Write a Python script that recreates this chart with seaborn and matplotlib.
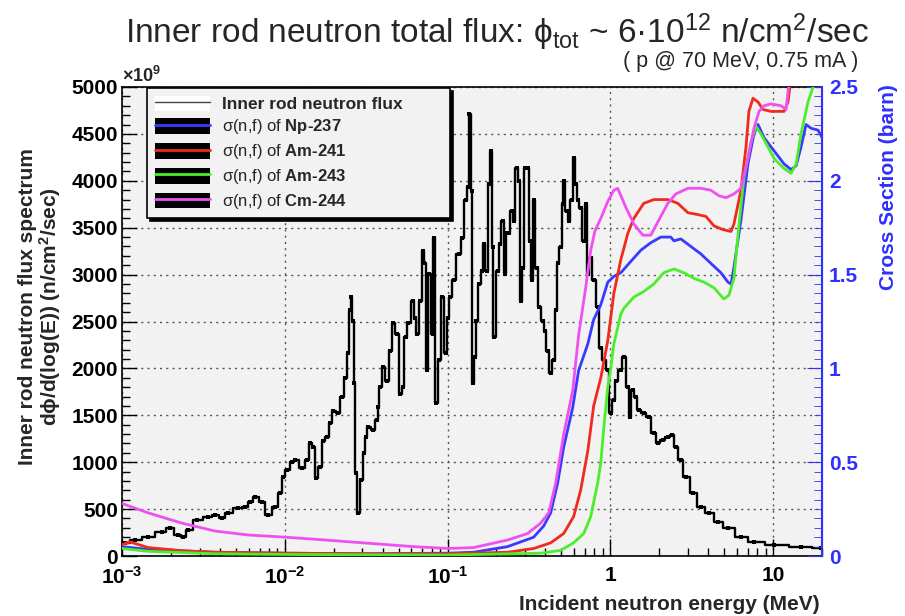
import numpy as np
import matplotlib.pyplot as plt
import seaborn as sns
from matplotlib.patches import Rectangle
from matplotlib.lines import Line2D
from matplotlib.legend_handler import HandlerTuple
from matplotlib.ticker import MultipleLocator, LogLocator, FixedLocator, FixedFormatter, NullFormatter
from matplotlib import font_manager

sns.set_style("ticks")
plt.rcParams['font.family'] = ['Liberation Sans', 'DejaVu Sans']
plt.rcParams['font.weight'] = 'bold'
plt.rcParams['mathtext.fontset'] = 'custom'
plt.rcParams['mathtext.rm'] = 'Liberation Sans'
plt.rcParams['mathtext.bf'] = 'Liberation Sans:bold'
plt.rcParams['mathtext.it'] = 'Liberation Sans:italic'
plt.rcParams['mathtext.default'] = 'regular'

names = {f.name for f in font_manager.fontManager.ttflist}
narrow = 'Liberation Sans Narrow' if 'Liberation Sans Narrow' in names else 'Liberation Sans'

# neutron flux spectrum (log10 E in MeV, flux in 1e9 n/cm2/sec)
flux_logE = [-2.982, -2.920, -2.840, -2.754, -2.705, -2.655, -2.625, -2.594, -2.538, -2.471,
             -2.428, -2.385, -2.348, -2.286, -2.243, -2.212, -2.182, -2.138, -2.102, -2.058,
             -2.028, -2.009, -1.985, -1.954, -1.935, -1.892, -1.862, -1.843, -1.825, -1.806,
             -1.782, -1.763, -1.738, -1.720, -1.702, -1.671, -1.646, -1.628, -1.609, -1.597,
             -1.591, -1.578, -1.572, -1.560, -1.548, -1.529, -1.511, -1.498, -1.486, -1.455,
             -1.431, -1.425, -1.412, -1.394, -1.369, -1.351, -1.332, -1.308, -1.289, -1.271,
             -1.258, -1.240, -1.215, -1.197, -1.185, -1.166, -1.148, -1.142, -1.123, -1.111,
             -1.092, -1.086, -1.068, -1.055, -1.031, -1.012, -0.994, -0.982, -0.963, -0.932,
             -0.908, -0.889, -0.877, -0.865, -0.852, -0.846, -0.834, -0.822, -0.809, -0.785,
             -0.778, -0.760, -0.748, -0.735, -0.723, -0.717, -0.692, -0.680, -0.662, -0.649,
             -0.637, -0.625, -0.606, -0.594, -0.575, -0.563, -0.551, -0.538, -0.526, -0.508,
             -0.495, -0.483, -0.471, -0.452, -0.440, -0.415, -0.403, -0.385, -0.366, -0.348,
             -0.335, -0.323, -0.305, -0.292, -0.286, -0.268, -0.255, -0.237, -0.225, -0.212,
             -0.200, -0.182, -0.163, -0.151, -0.138, -0.120, -0.102, -0.077, -0.058, -0.040,
             -0.015, 0.003, 0.022, 0.034, 0.065, 0.083, 0.108, 0.120, 0.138, 0.157,
             0.175, 0.206, 0.237, 0.268, 0.292, 0.323, 0.354, 0.378, 0.403, 0.434,
             0.465, 0.508, 0.557, 0.606, 0.662, 0.723, 0.803, 0.883, 1.006, 1.172, 1.295]
flux_vals = [140, 170, 200, 255, 300, 220, 200, 275, 380, 415,
             435, 400, 455, 510, 520, 575, 630, 575, 435, 520,
             670, 840, 915, 1000, 1020, 935, 1020, 1200, 1160, 830,
             950, 1230, 1270, 1415, 1550, 1520, 1690, 1900, 2160, 2620,
             2760, 2510, 1840, 880, 455, 810, 1095, 1270, 1370, 1340,
             1450, 1585, 1800, 2010, 1870, 2190, 2480, 2370, 1730, 1800,
             2330, 2480, 2720, 2540, 2370, 2720, 3255, 3120, 1980, 3010,
             2370, 3390, 1630, 2085, 2760, 2160, 2540, 2760, 2940, 3220,
             3390, 3790, 3930, 4710, 3890, 1840, 2120, 2510, 2900, 3040,
             3330, 3040, 3970, 4320, 3290, 2330, 3040, 3330, 3570, 3010,
             3440, 3440, 3680, 3570, 4140, 4000, 2720, 3075, 4140, 4140,
             3360, 2940, 3790, 3075, 2650, 2510, 2400, 2190, 1950, 2085,
             2620, 3120, 3290, 3755, 4000, 3680, 3570, 3790, 4245, 3970,
             3790, 3715, 3360, 3755, 3010, 3180, 2940, 2650, 2220, 2085,
             1980, 1520, 1660, 1870, 1980, 2120, 1800, 1480, 1765, 1690,
             1555, 1520, 1480, 1310, 1200, 1235, 1270, 1290, 1160, 1020,
             840, 670, 520, 455, 360, 300, 200, 150, 115, 100, 85]

# fission cross sections (log10 E in MeV, barn)
np237_logE = [-3.0, -2.84, -2.428, -1.991, -1.517, -0.994, -0.84, -0.631, -0.471, -0.409,
              -0.366, -0.323, -0.286, -0.231, -0.194, -0.138, -0.102, -0.058, -0.015, 0.022,
              0.065, 0.126, 0.188, 0.249, 0.311, 0.372, 0.391, 0.434, 0.495, 0.557,
              0.618, 0.68, 0.723, 0.742, 0.76, 0.803, 0.846, 0.883, 0.908, 0.945,
              1.006, 1.068, 1.111, 1.142, 1.172, 1.203, 1.234, 1.277, 1.308]
np237_xs = [0.05, 0.035, 0.02, 0.015, 0.012, 0.015, 0.02, 0.05, 0.10, 0.16,
            0.23, 0.39, 0.58, 0.79, 0.99, 1.13, 1.26, 1.34, 1.46, 1.49,
            1.51, 1.57, 1.63, 1.67, 1.70, 1.70, 1.68, 1.69, 1.65, 1.61,
            1.56, 1.51, 1.46, 1.45, 1.54, 1.79, 2.09, 2.25, 2.30, 2.23,
            2.16, 2.09, 2.06, 2.08, 2.18, 2.30, 2.28, 2.27, 2.22]

am241_logE = [-3.0, -2.951, -2.84, -2.631, -2.428, -1.991, -1.517, -0.994, -0.631, -0.471,
              -0.366, -0.286, -0.225, -0.182, -0.138, -0.102, -0.058, -0.015, 0.022, 0.065,
              0.108, 0.145, 0.206, 0.268, 0.354, 0.415, 0.477, 0.538, 0.588, 0.637,
              0.692, 0.742, 0.76, 0.803, 0.834, 0.852, 0.877, 0.908, 0.938, 0.988,
              1.068, 1.092, 1.111, 1.129]
am241_xs = [0.06, 0.075, 0.045, 0.028, 0.02, 0.015, 0.012, 0.012, 0.02, 0.04,
            0.07, 0.12, 0.21, 0.35, 0.56, 0.80, 0.95, 1.15, 1.40, 1.58,
            1.72, 1.80, 1.88, 1.90, 1.90, 1.88, 1.83, 1.82, 1.81, 1.76,
            1.74, 1.73, 1.77, 1.95, 2.18, 2.37, 2.44, 2.42, 2.38, 2.37,
            2.37, 2.42, 2.55, 2.70]

am243_logE = [-3.0, -2.84, -2.428, -1.991, -0.994, -0.428, -0.305, -0.225, -0.163, -0.12,
              -0.077, -0.058, -0.04, -0.015, 0.003, 0.022, 0.065, 0.083, 0.145, 0.206,
              0.268, 0.329, 0.391, 0.452, 0.514, 0.575, 0.637, 0.698, 0.729, 0.76,
              0.791, 0.822, 0.865, 0.895, 0.926, 0.969, 1.006, 1.062, 1.111, 1.142,
              1.172, 1.215, 1.246, 1.271]
am243_xs = [0.04, 0.025, 0.012, 0.008, 0.005, 0.015, 0.03, 0.07, 0.12, 0.21,
            0.39, 0.50, 0.68, 0.90, 1.00, 1.13, 1.29, 1.32, 1.38, 1.41,
            1.45, 1.51, 1.53, 1.51, 1.48, 1.46, 1.43, 1.37, 1.39, 1.48,
            1.77, 2.02, 2.21, 2.29, 2.25, 2.18, 2.12, 2.07, 2.04, 2.09,
            2.25, 2.42, 2.50, 2.60]

cm244_logE = [-3.0, -2.84, -2.631, -2.428, -2.225, -1.991, -1.825, -1.517, -1.209, -0.994,
              -0.84, -0.631, -0.508, -0.428, -0.378, -0.335, -0.286, -0.231, -0.194, -0.151,
              -0.12, -0.095, -0.058, -0.015, 0.022, 0.046, 0.095, 0.145, 0.2, 0.249,
              0.298, 0.354, 0.403, 0.477, 0.557, 0.618, 0.668, 0.711, 0.76, 0.803,
              0.846, 0.883, 0.914, 0.945, 0.988, 1.049, 1.08, 1.098, 1.123]
cm244_xs = [0.28, 0.23, 0.175, 0.133, 0.112, 0.10, 0.09, 0.07, 0.05, 0.04,
            0.045, 0.085, 0.12, 0.175, 0.23, 0.39, 0.65, 0.88, 1.18, 1.43,
            1.63, 1.73, 1.80, 1.89, 1.95, 1.96, 1.86, 1.77, 1.71, 1.71,
            1.79, 1.88, 1.93, 1.96, 1.96, 1.95, 1.92, 1.91, 1.93, 1.96,
            2.12, 2.28, 2.37, 2.40, 2.41, 2.40, 2.38, 2.52, 2.70]

xs_series = [("Np-237", np237_logE, np237_xs, "#3a3aff"),
             ("Am-241", am241_logE, am241_xs, "#f02a1e"),
             ("Am-243", am243_logE, am243_xs, "#4aee2a"),
             ("Cm-244", cm244_logE, cm244_xs, "#f050f0")]

fig = plt.figure(figsize=(9.05, 6.16), dpi=100)
ax = fig.add_axes([122/905, 1 - 556/616, 700/905, 469/616])
ax.set_facecolor('#f2f2f2')
ax.set_xscale('log')

sns.lineplot(x=10**np.array(flux_logE), y=flux_vals, ax=ax, color='black', lw=1.7,
             drawstyle='steps-mid', estimator=None, sort=False,
             marker='s', markersize=3.5, markeredgewidth=0)

ax2 = ax.twinx()
for name, logE, xs, col in xs_series:
    sns.lineplot(x=10**np.array(logE), y=xs, ax=ax2, color=col, lw=2,
                 estimator=None, sort=False)

ax.set_xlim(1e-3, 20)
ax.set_ylim(0, 5000)
ax2.set_ylim(0, 2.5)
ax.set_xlabel('')
ax.set_ylabel('')
ax2.set_ylabel('')

# grid
ax.grid(True, which='major', color='#555555', ls=(0, (1.5, 3)), lw=1)
ax.set_axisbelow(True)

# ticks
ax.xaxis.set_major_locator(FixedLocator([1e-3, 1e-2, 1e-1, 1, 10]))
ax.xaxis.set_major_formatter(FixedFormatter(['$10^{-3}$', '$10^{-2}$', '$10^{-1}$', '1', '10']))
ax.xaxis.set_minor_locator(LogLocator(base=10, subs=np.arange(2, 10), numticks=20))
ax.xaxis.set_minor_formatter(NullFormatter())
ax.yaxis.set_major_locator(MultipleLocator(500))
ax.yaxis.set_minor_locator(MultipleLocator(100))
ax.tick_params(axis='both', which='both', direction='in', colors='black', width=1)
ax.tick_params(axis='y', which='major', length=11, labelsize=15, pad=3, right=False)
ax.tick_params(axis='y', which='minor', length=6, right=False)
ax.tick_params(axis='x', which='major', length=12, labelsize=15, pad=7)
ax.tick_params(axis='x', which='minor', length=6)

blue = '#3030ff'
ax2.yaxis.set_major_locator(FixedLocator([0, 0.5, 1, 1.5, 2, 2.5]))
ax2.yaxis.set_major_formatter(FixedFormatter(['0', '0.5', '1', '1.5', '2', '2.5']))
ax2.yaxis.set_minor_locator(MultipleLocator(0.05))
ax2.tick_params(axis='y', which='both', direction='in', colors=blue, labelcolor=blue)
ax2.tick_params(axis='y', which='major', length=11, labelsize=15, pad=5)
ax2.tick_params(axis='y', which='minor', length=6)

for sp in ['left', 'bottom', 'top']:
    ax.spines[sp].set_color('black')
    ax.spines[sp].set_linewidth(1.2)
ax2.spines['right'].set_color(blue)
ax2.spines['right'].set_linewidth(1.5)
for sp in ['left', 'bottom', 'top']:
    ax2.spines[sp].set_visible(False)

# legend
handles = [(Rectangle((0, 0), 1, 1, fc='white', ec='none'), Line2D([], [], color='#444444', lw=1))]
labels = ['Inner rod neutron flux']
for name, logE, xs, col in xs_series:
    handles.append((Rectangle((0, 0), 1, 1, fc='black', ec='none'), Line2D([], [], color=col, lw=2)))
    labels.append(r'σ(n,f) of $\mathbf{' + name.replace('-', '‐') + '}$')
leg = ax2.legend(handles, labels, handler_map={tuple: HandlerTuple(ndivide=1)},
                 loc='upper left', bbox_to_anchor=(0.036, 0.728, 0.433, 0.27), mode='expand',
                 borderaxespad=0, fontsize=11, handlelength=3.6, handleheight=1.2,
                 handletextpad=0.8, labelspacing=0.38, borderpad=0.5, fancybox=False,
                 framealpha=1, facecolor='#f2f2f2', edgecolor='black',
                 shadow={'color': 'black', 'alpha': 1})
leg.get_frame().set_linewidth(1.2)
for i, t in enumerate(leg.get_texts()):
    if i == 0:
        t.set_fontweight('bold')
        t.set_fontsize(12.5)
    else:
        t.set_fontweight('normal')
        t.set_fontsize(12)

# texts
fig.text(0.549, 1 - 43/616, r'Inner rod neutron total flux: $\phi_{tot}$ ~ 6·10$^{12}$ n/cm$^{2}$/sec',
         ha='center', va='baseline', fontsize=24, fontweight='normal', family=[narrow, 'DejaVu Sans'])
fig.text(858/905, 1 - 67/616, '( p @ 70 MeV, 0.75 mA )', ha='right', va='baseline',
         fontsize=15.5, fontweight='normal', family=[narrow, 'DejaVu Sans'])
fig.text(122/905, 1 - 82/616, r'×10$^{9}$', ha='left', va='baseline', fontsize=13, fontweight='bold')
fig.text(28/905, 1 - 307/616, 'Inner rod neutron flux spectrum', rotation=90,
         ha='center', va='center', fontsize=15, fontweight='bold')
fig.text(50/905, 1 - 307/616, 'dϕ/d(log(E)) (n/cm$^{2}$/sec)', rotation=90,
         ha='center', va='center', fontsize=15, fontweight='bold', family=['Liberation Sans', 'DejaVu Sans'])
fig.text(888/905, 1 - 84/616, 'Cross Section (barn)', rotation=90, ha='center', va='top',
         fontsize=15, fontweight='bold', color=blue)
fig.text(820/905, 1 - 610/616, 'Incident neutron energy (MeV)', ha='right', va='baseline',
         fontsize=15, fontweight='bold')

fig.savefig('out.png', dpi=100)
